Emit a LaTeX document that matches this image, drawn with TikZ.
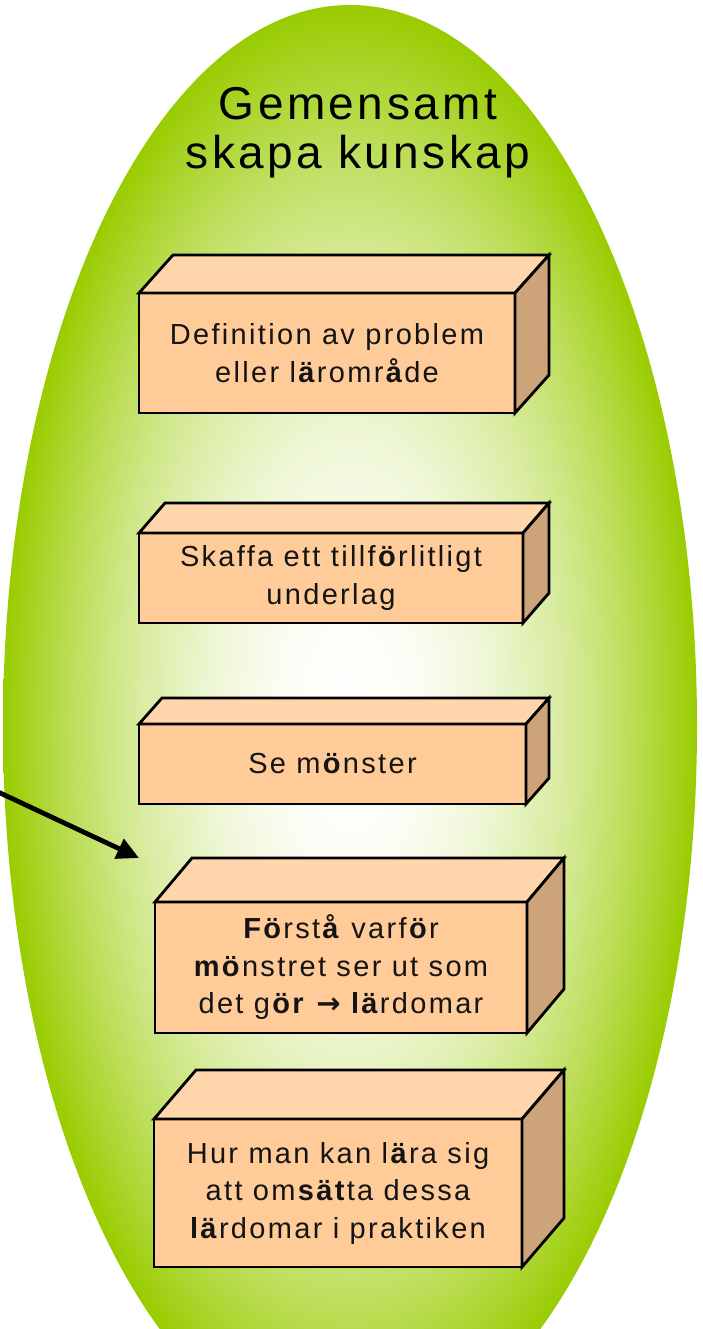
\documentclass[tikz,border=0pt]{standalone}
\usepackage{fontspec}
\setmainfont{Liberation Sans}[LetterSpace=8]
\newfontfamily\titlefont{Liberation Sans}[LetterSpace=7.5]
\newfontfamily\arrowfont{DejaVu Sans}
\usetikzlibrary{arrows.meta}
\definecolor{grn}{RGB}{153,204,0}
\definecolor{boxfront}{RGB}{255,204,153}
\definecolor{boxtop}{RGB}{255,214,172}
\definecolor{boxside}{RGB}{205,163,122}
\definecolor{txt}{RGB}{20,20,20}
\pgfdeclareradialshading{greenglow}{\pgfpoint{0bp}{0bp}}{%
 color(0bp)=(white); color(5bp)=(grn!4!white); color(10bp)=(grn!16!white);
 color(15bp)=(grn!36!white); color(17.5bp)=(grn!49!white); color(20bp)=(grn!64!white);
 color(22.5bp)=(grn!81!white); color(25bp)=(grn); color(50bp)=(grn)}
\newcommand\cubefaces[3]{%
 \draw[topface] (#1.north west) -- ++(#2,-#3) -- ([shift={(#2,-#3)}]#1.north east) -- (#1.north east) -- cycle;
 \draw[sideface] (#1.north east) -- ([shift={(#2,-#3)}]#1.north east) -- ([shift={(#2,-#3)}]#1.south east) -- (#1.south east) -- cycle;
}
\begin{document}
\begin{tikzpicture}[x=1pt,y=-1pt,
 frontface/.style={draw=black, line width=2.8pt, fill=boxfront, inner sep=0pt, outer sep=0pt,
   align=center, text=txt, font=\fontsize{29}{37.5}\selectfont, line join=miter},
 topface/.style={draw=black, line width=2.8pt, fill=boxtop, line join=miter},
 sideface/.style={draw=black, line width=2.8pt, fill=boxside, line join=miter},
 titletext/.style={align=center, text=black, font=\titlefont\fontsize{46}{49}\selectfont, inner sep=0pt},
 pointer/.style={line width=4.8pt, -{Triangle[length=22pt,width=21pt]}}]
\useasboundingbox (0,0) rectangle (702,1329);
\clip (0,0) rectangle (702,1329);
\shade[shading=greenglow] (350,726) ellipse [x radius=347pt, y radius=721pt];

\node[titletext] (title) at (358,133) {Gemensamt\\skapa kunskap};

\node[frontface, minimum width=376pt, minimum height=120pt] (b1) at (327,353)
 {Definition av problem\\eller l\textbf{ä}romr\textbf{å}de};
\cubefaces{b1}{34}{38}

\node[frontface, minimum width=384pt, minimum height=90pt] (b2) at (331,578)
 {Skaffa ett tillf\textbf{ö}rlitligt\\underlag};
\cubefaces{b2}{26}{30}

\node[frontface, minimum width=387pt, minimum height=80pt] (b3) at (332.5,764)
 {Se m\textbf{ö}nster};
\cubefaces{b3}{23}{26}

\node[frontface, minimum width=372pt, minimum height=131pt] (b4) at (341,967.5)
 {\textbf{Fö}rst\textbf{å} varf\textbf{ö}r\\\textbf{mö}nstret ser ut som\\det g\textbf{ör} {\arrowfont\bfseries →} \textbf{lä}rdomar};
\cubefaces{b4}{37}{44}

\node[frontface, minimum width=368pt, minimum height=148pt] (b5) at (338,1193)
 {Hur man kan l\textbf{ä}ra sig\\att om\textbf{sät}ta dessa\\\textbf{lä}rdomar i praktiken};
\cubefaces{b5}{42}{49}

\coordinate (arrowtail) at (-4,791);
\coordinate (arrowtip) at (139,858);
\draw[pointer] (arrowtail) -- (arrowtip);
\end{tikzpicture}
\end{document}
